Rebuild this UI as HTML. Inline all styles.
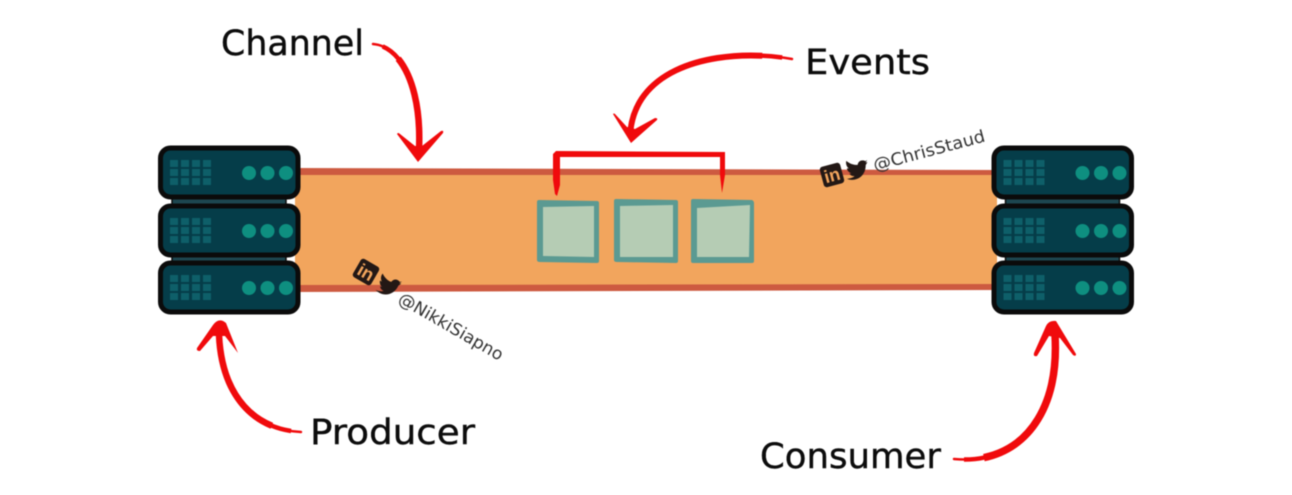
<!DOCTYPE html>
<html>
<head>
<meta charset="utf-8">
<style>
html,body{margin:0;padding:0;background:#fff;width:1292px;height:495px;overflow:hidden}
svg{display:block;filter:blur(.4px)}
.lbl{font-family:"DejaVu Sans",sans-serif;font-size:35px;fill:#0c0c0c;stroke:#0c0c0c;stroke-width:.4px}
.h{font-family:"DejaVu Sans",sans-serif;font-size:17px;fill:#333}
.in{font-family:"Liberation Sans",sans-serif;font-weight:bold;font-size:18px;fill:#f2a55d}
.r{fill:#f00a0c}
.s{fill:none;stroke:#f00a0c}
</style>
</head>
<body>
<svg width="1292" height="495" viewBox="0 0 1292 495" xmlns="http://www.w3.org/2000/svg">
<defs>
<g id="unit">
<rect x="160.500" y="0" width="137.500" height="49" rx="10" fill="#053d49" stroke="#0b0b0b" stroke-width="5"/>
<g fill="#0e5f69">
<rect x="170" y="12" width="8" height="7"/><rect x="181" y="12" width="8" height="7"/><rect x="192" y="12" width="8" height="7"/><rect x="203" y="12" width="8" height="7"/>
<rect x="170" y="21" width="8" height="7"/><rect x="181" y="21" width="8" height="7"/><rect x="192" y="21" width="8" height="7"/><rect x="203" y="21" width="8" height="7"/>
<rect x="170" y="30" width="8" height="7"/><rect x="181" y="30" width="8" height="7"/><rect x="192" y="30" width="8" height="7"/><rect x="203" y="30" width="8" height="7"/>
</g>
<g fill="#0e8f80"><circle cx="249" cy="25" r="7"/><circle cx="267.500" cy="25" r="7"/><circle cx="286" cy="25" r="7"/></g>
</g>
<g id="stack">
<rect x="172" y="196" width="114" height="11" fill="#1d4750" stroke="#0b0b0b" stroke-width="1.500"/>
<rect x="172" y="254" width="114" height="11" fill="#1d4750" stroke="#0b0b0b" stroke-width="1.500"/>
<use href="#unit" y="148"/>
<use href="#unit" y="206"/>
<use href="#unit" y="263"/>
</g>
<path id="bird" d="M10,-7 C7,-9 3,-8 2,-4 C-2,-4 -6,-6 -9,-9 C-10,-6 -9,-3 -7,-1 L-9,-1.500 C-9,1 -7,3 -5,4 L-7,4 C-6,6 -4,7 -2,7 C-4,8.500 -7,9 -10,9 C-2,13 9,9 10,-3 L12,-6 L10,-5.500 L12,-8 Z" fill="#231815"/>
</defs>

<!-- channel -->
<rect x="295" y="171" width="702" height="117" fill="#f2a55d"/>
<path d="M295,168 L997,170 L997,175 L295,175 Z" fill="#cd5a40"/>
<path d="M295,285 L997,284 L997,290 L295,292 Z" fill="#cd5a40"/>

<!-- event squares -->
<path d="M539,200 L597,201 Q599,201 599,203 L599,261 Q599,263 597,263 L540,262 Q537,262 537,260 L537,202 Q537,200 539,200Z" fill="#5b9a92"/>
<path d="M543,207 L594,206 L594,257 L543,256Z" fill="#b5ccb4"/>
<path d="M616,199 L676,200 Q678,200 678,202 L678,261 Q678,263 676,263 L617,262 Q614,262 614,260 L614,201 Q614,199 616,199Z" fill="#5b9a92"/>
<path d="M620,206 L673,205 L673,257 L620,257Z" fill="#b5ccb4"/>
<path d="M693,199 L752,200 Q754,201 754,203 L754,261 Q754,263 752,263 L693,263 Q691,263 691,261 L691,201 Q691,199 693,199Z" fill="#5b9a92"/>
<path d="M697,208 L750,205 L749,257 L697,257Z" fill="#b5ccb4"/>

<!-- bracket -->
<path class="r" d="M556,151 L725,152 L725,175 L722,193 L720,175 L720,157 L560,157 L560,185 L557,196 L555,194 L553,180 L553,154 Z"/>

<!-- servers -->
<use href="#stack"/>
<use href="#stack" x="833.500"/>

<!-- arrows -->
<g class="s" stroke-width="2.500" stroke-linecap="round">
<path d="M373,44 C400,46 422,85 419,150"/>
<path d="M792,59 C730,48 635,60 630,135"/>
<path d="M301,432 C258,430 222,400 219,335"/>
<path d="M954,459 C1015,465 1060,420 1055,335"/>
</g>
<g class="s" stroke-width="4.500" stroke-dasharray="0 10 1000 0">
<path d="M373,44 C400,46 422,85 419,150"/>
<path d="M792,59 C730,48 635,60 630,135"/>
<path d="M301,432 C258,430 222,400 219,335"/>
<path d="M954,459 C1015,465 1060,420 1055,335"/>
</g>
<g class="s" stroke-dasharray="0 30 1000 0">
<path stroke-width="6.500" d="M373,44 C400,46 422,85 419,150"/>
<path stroke-width="6" d="M792,59 C730,48 635,60 630,135"/>
<path stroke-width="6.500" d="M301,432 C258,430 222,400 219,335"/>
<path stroke-width="7.500" d="M954,459 C1015,465 1060,420 1055,335"/>
</g>
<path class="r" d="M397,134 Q398,132 400,134 L415,146 L422,146 L441,131 Q444,130 443,133 L418,162 Z"/>
<path class="r" d="M613,114 Q614,113 615,114 L627,127 L635,129 L655,118 Q658,118 657,120 L631,143 Z"/>
<path class="r" d="M197,348 L213,325 Q219,317 226,323 L238,353 L225,336 L213,336 L200,351 Q196,351 197,348Z"/>
<path class="r" d="M1034,353 L1046,326 Q1049,320 1056,321 L1076,354 Q1076,357 1073,355 L1060,338 L1049,336 L1037,356 Q1033,357 1034,353Z"/>

<!-- labels -->
<text class="lbl" x="221" y="55" textLength="143" lengthAdjust="spacingAndGlyphs">Channel</text>
<text class="lbl" x="805" y="74" textLength="125" lengthAdjust="spacingAndGlyphs">Events</text>
<text class="lbl" x="310" y="444" textLength="165" lengthAdjust="spacingAndGlyphs">Producer</text>
<text class="lbl" x="760" y="468" textLength="181" lengthAdjust="spacingAndGlyphs">Consumer</text>

<!-- handles -->
<g transform="translate(832,175) rotate(-15)">
<rect x="-10.500" y="-10.500" width="21" height="21" rx="3" fill="#231815"/>
<text class="in" x="0" y="6.500" text-anchor="middle">in</text>
</g>
<use href="#bird" transform="translate(856,169) rotate(-5)"/>
<text class="h" transform="translate(875,171) rotate(-15)" textLength="115" lengthAdjust="spacingAndGlyphs">@ChrisStaud</text>

<g transform="translate(366,272) rotate(30)">
<rect x="-10.500" y="-10.500" width="21" height="21" rx="3" fill="#231815"/>
<text class="in" x="0" y="6.500" text-anchor="middle">in</text>
</g>
<use href="#bird" transform="translate(388,285) rotate(20)"/>
<text class="h" transform="translate(397,302) rotate(30)" textLength="118" lengthAdjust="spacingAndGlyphs">@NikkiSiapno</text>
</svg>
</body>
</html>
